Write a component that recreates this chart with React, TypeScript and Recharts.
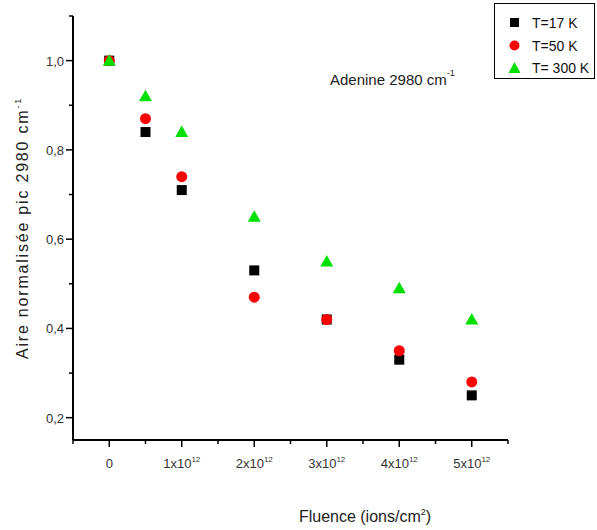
import { ScatterChart, Scatter, XAxis, YAxis, Label } from "recharts";

// fluence in units of 1e12 ions/cm2
const fluence = [0, 0.5, 1, 2, 3, 4, 5];
const t17 = [1.0, 0.84, 0.71, 0.53, 0.42, 0.33, 0.25];
const t50 = [1.0, 0.87, 0.74, 0.47, 0.42, 0.35, 0.28];
const t300 = [1.0, 0.92, 0.84, 0.65, 0.55, 0.49, 0.42];

const xTicks = [-0.5, 0, 0.5, 1, 1.5, 2, 2.5, 3, 3.5, 4, 4.5, 5, 5.5];
const yTicks = [0.15, 0.2, 0.3, 0.4, 0.5, 0.6, 0.7, 0.8, 0.9, 1.0, 1.1];
const yMajor = [0.2, 0.4, 0.6, 0.8, 1.0];
const seriesNames = ["T=17 K", "T=50 K", "T= 300 K"];

const FONT = "'Liberation Sans', Arial, sans-serif";

const toPoints = (vals: number[]) => fluence.map((f, i) => ({ x: f, y: vals[i] }));

const Square = ({ cx, cy }: any) => <rect x={cx - 5} y={cy - 5} width={10} height={10} fill="#000" />;
const Dot = ({ cx, cy }: any) => <circle cx={cx} cy={cy} r={5.5} fill="#ff0000" />;
const Tri = ({ cx, cy }: any) => (
  <polygon points={`${cx},${cy - 6.5} ${cx + 6.5},${cy + 5} ${cx - 6.5},${cy + 5}`} fill="#00e000" />
);

const XTick = ({ x, y, payload }: any) => {
  const v = payload.value;
  const major = Number.isInteger(v);
  if (v < -0.4) return <line x1={x} y1={y} x2={x} y2={y + 4} stroke="#000" strokeWidth={1.5} />;
  return (
    <g>
      <line x1={x} y1={y} x2={x} y2={y + (major ? 7 : 4)} stroke="#000" strokeWidth={1.5} />
      {major && (
        <text x={x} y={y + 28} textAnchor="middle" fontSize={13} fill="#333" fontFamily={FONT}>
          {v === 0 ? "0" : `${v}x10`}
          {v !== 0 && (
            <tspan fontSize={8} dy={-6}>
              12
            </tspan>
          )}
        </text>
      )}
    </g>
  );
};

const YTick = ({ x, y, payload }: any) => {
  const v = payload.value;
  if (v < 0.16) return null;
  const major = yMajor.some((m) => Math.abs(m - v) < 1e-6);
  return (
    <g>
      <line x1={x} y1={y} x2={x - (major ? 7 : 4)} y2={y} stroke="#000" strokeWidth={1.5} />
      {major && (
        <text x={x - 9} y={y + 5} textAnchor="end" fontSize={13} fill="#333" fontFamily={FONT}>
          {v.toFixed(1).replace(".", ",")}
        </text>
      )}
    </g>
  );
};

const LegendBox = () => {
  const shapes = [
    <rect x={16} y={-5} width={9} height={9} fill="#000" />,
    <circle cx={20.5} cy={0} r={5} fill="#ff0000" />,
    <polygon points="20.5,-6 26.5,5 14.5,5" fill="#00e000" />,
  ];
  return (
    <svg width={102} height={77} style={{ display: "block" }}>
      <rect x={0.5} y={0.5} width={100} height={75} fill="#fff" stroke="#000" strokeWidth={1} />
      {seriesNames.map((name, i) => (
        <g key={name} transform={`translate(0, ${20 + i * 22.5})`}>
          {shapes[i]}
          <text x={38} y={5} fontSize={14} fontFamily={FONT} fill="#111">
            {name}
          </text>
        </g>
      ))}
    </svg>
  );
};

const YLabel = () => {
  const cx = 28;
  const cy = 228;
  return (
    <text
      x={cx}
      y={cy}
      transform={`rotate(-90, ${cx}, ${cy})`}
      textAnchor="middle"
      fontSize={16}
      fontFamily={FONT}
      fill="#222"
      letterSpacing={1.8}
    >
      Aire normalisée pic 2980 cm
      <tspan fontSize={9} dy={-7}>
        -1
      </tspan>
    </text>
  );
};

const XLabel = ({ viewBox }: any) => {
  const cx = 365;
  const cy = viewBox.y + 82;
  return (
    <text x={cx} y={cy} textAnchor="middle" fontSize={16} fontFamily={FONT} fill="#222">
      Fluence (ions/cm
      <tspan fontSize={9} dy={-7}>
        2
      </tspan>
      <tspan dy={7}>)</tspan>
    </text>
  );
};

export default function App() {
  return (
    <div style={{ position: "absolute", left: 0, top: 0, width: 597, height: 530, background: "#fff" }}>
      <ScatterChart width={597} height={530} margin={{ top: 16, right: 89, left: 0, bottom: 0 }}>
        <XAxis
          type="number"
          dataKey="x"
          domain={[-0.5, 5.5]}
          ticks={xTicks}
          interval={0}
          height={90}
          tickSize={0}
          tickMargin={0}
          tickLine={false}
          axisLine={{ stroke: "#000", strokeWidth: 2 }}
          tick={<XTick />}
          allowDataOverflow
        >
          <Label content={<XLabel />} />
        </XAxis>
        <YAxis
          type="number"
          dataKey="y"
          domain={[0.15, 1.1]}
          ticks={yTicks}
          interval={0}
          width={73}
          tickSize={0}
          tickMargin={0}
          tickLine={false}
          axisLine={{ stroke: "#000", strokeWidth: 2 }}
          tick={<YTick />}
          allowDataOverflow
        >
          <Label content={<YLabel />} />
        </YAxis>
        <Scatter name={seriesNames[0]} data={toPoints(t17)} shape={<Square />} isAnimationActive={false} />
        <Scatter name={seriesNames[1]} data={toPoints(t50)} shape={<Dot />} isAnimationActive={false} />
        <Scatter name={seriesNames[2]} data={toPoints(t300)} shape={<Tri />} isAnimationActive={false} />
      </ScatterChart>
      <div style={{ position: "absolute", left: 494, top: 3 }}>
        <LegendBox />
      </div>
      <div
        style={{
          position: "absolute",
          left: 330,
          top: 71,
          fontSize: 15,
          fontFamily: FONT,
          color: "#222",
          whiteSpace: "nowrap",
        }}
      >
        Adenine 2980 cm<sup style={{ fontSize: 9, verticalAlign: "top", position: "relative", top: -3 }}>-1</sup>
      </div>
    </div>
  );
}
